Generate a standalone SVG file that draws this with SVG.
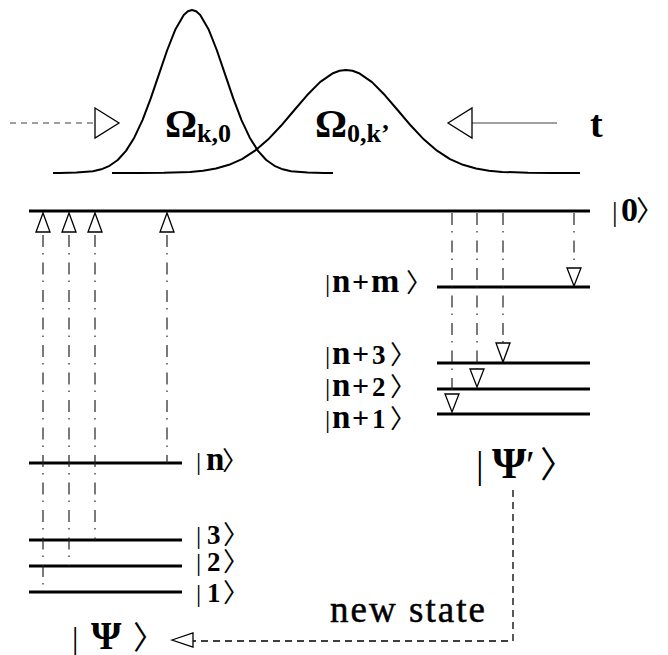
<svg xmlns="http://www.w3.org/2000/svg" width="668" height="655" viewBox="0 0 668 655">
<style>
.lvl{stroke:#000;stroke-width:3;fill:none}
.pulse{stroke:#000;stroke-width:2;fill:none;stroke-linejoin:round}
.dd{stroke:#222;stroke-width:1.2;stroke-dasharray:12 6 1.5 8;fill:none}
.tri{fill:#fff;stroke:#000;stroke-width:1.3}
.t{font-family:"Liberation Serif","DejaVu Serif",serif;fill:#000}
.b{font-weight:bold}
.br{font-family:"Noto Sans CJK JP","Noto Sans CJK SC",sans-serif;font-weight:normal}
.bar{font-family:"Liberation Serif",serif;font-weight:normal}
</style>
<rect width="668" height="655" fill="#fff"/>
<g id="pulses">
<polyline class="pulse" points="53,173 60,173 76.5,172.6 93,171.2 101.25,169.3 109.5,165.8 117.75,160 126,150.9 134.25,137.7 142.5,120.1 150.75,98.4 159,74.1 167.25,50 175.5,29.2 183.75,15 187.9,11.3 192,10 196.1,11.3 200.25,15 208.5,29.2 216.75,50 225,74.1 233.25,98.4 241.5,120.1 249.75,137.7 258,150.9 266.25,160 274.5,165.8 282.75,169.3 291,171.2 307.5,172.6 324,173 333,173"/>
<polyline class="pulse" points="112,173 138,173 164,172.8 190,171.9 203,170.7 216,168.5 229,164.8 242,159.1 255,150.7 268,139.6 281,125.8 294,110.5 307,95.3 320,82.1 333,73.2 339.5,70.8 346,70 352.5,70.8 359,73.2 372,82.1 385,95.3 398,110.5 411,125.8 424,139.6 437,150.7 450,159.1 463,164.8 476,168.5 489,170.7 502,171.9 528,172.8 554,173 580,173"/>
<text class="t b" x="165" y="137" font-size="40">Ω<tspan font-size="26" dy="5">k,0</tspan></text>
<text class="t b" x="315" y="137" font-size="40">Ω<tspan font-size="26" dy="5">0,k’</tspan></text>
<text class="t b" x="590" y="137" font-size="38">t</text>
<line x1="10" y1="123" x2="95" y2="123" stroke="#808080" stroke-width="1.5" stroke-dasharray="6 5"/>
<polygon class="tri" points="95,108 119,123 95,138"/>
<line x1="472" y1="123" x2="557" y2="123" stroke="#808080" stroke-width="1.5"/>
<polygon class="tri" points="448,123 472,108 472,138"/>
</g>
<g id="level-0">
<line class="lvl" x1="29" y1="211" x2="590" y2="211"/>
<text class="t" x="612" y="221" font-size="28"><tspan class="bar">|</tspan><tspan class="b" x="621" font-size="34">0</tspan><tspan class="br" x="636" font-size="28">〉</tspan></text>
</g>
<g id="level-n">
<line class="lvl" x1="29" y1="463" x2="182" y2="463"/>
<text class="t" x="196" y="470" font-size="26"><tspan class="bar">|</tspan><tspan class="b" x="206" font-size="33">n</tspan><tspan class="br" x="222">〉</tspan></text>
</g>
<g id="level-3">
<line class="lvl" x1="29" y1="540" x2="182" y2="540"/>
<text class="t" x="196" y="544" font-size="26"><tspan class="bar">|</tspan><tspan class="b" x="207" font-size="27">3</tspan><tspan class="br" x="223">〉</tspan></text>
</g>
<g id="level-2">
<line class="lvl" x1="29" y1="566" x2="182" y2="566"/>
<text class="t" x="196" y="571" font-size="26"><tspan class="bar">|</tspan><tspan class="b" x="207" font-size="27">2</tspan><tspan class="br" x="223">〉</tspan></text>
</g>
<g id="level-1">
<line class="lvl" x1="29" y1="592" x2="182" y2="592"/>
<text class="t" x="196" y="602" font-size="26"><tspan class="bar">|</tspan><tspan class="b" x="207" font-size="27">1</tspan><tspan class="br" x="223">〉</tspan></text>
</g>
<g id="level-nm">
<line class="lvl" x1="437" y1="287" x2="590" y2="287"/>
<text class="t" x="325" y="292" font-size="26"><tspan class="bar">|</tspan><tspan class="b" x="332" font-size="33">n</tspan><tspan class="b" x="352" font-size="30">+</tspan><tspan class="b" x="371" font-size="34" textLength="39">m</tspan><tspan class="br" x="406">〉</tspan></text>
</g>
<g id="level-n3">
<line class="lvl" x1="437" y1="363" x2="590" y2="363"/>
<text class="t" x="325" y="364" font-size="26"><tspan class="bar">|</tspan><tspan class="b" x="332" font-size="33">n</tspan><tspan class="b" x="352" font-size="30">+</tspan><tspan class="b" x="372" font-size="27">3</tspan><tspan class="br" x="390">〉</tspan></text>
</g>
<g id="level-n2">
<line class="lvl" x1="437" y1="389" x2="590" y2="389"/>
<text class="t" x="325" y="396" font-size="26"><tspan class="bar">|</tspan><tspan class="b" x="332" font-size="33">n</tspan><tspan class="b" x="352" font-size="30">+</tspan><tspan class="b" x="372" font-size="27">2</tspan><tspan class="br" x="390">〉</tspan></text>
</g>
<g id="level-n1">
<line class="lvl" x1="437" y1="414" x2="590" y2="414"/>
<text class="t" x="325" y="428" font-size="26"><tspan class="bar">|</tspan><tspan class="b" x="332" font-size="33">n</tspan><tspan class="b" x="352" font-size="30">+</tspan><tspan class="b" x="372" font-size="27">1</tspan><tspan class="br" x="390">〉</tspan></text>
</g>
<g id="psi-prime">
<text class="t" x="476" y="478" font-size="38"><tspan class="bar">|</tspan><tspan class="b" x="492" font-size="44">Ψ</tspan><tspan x="526" font-size="40">′</tspan><tspan class="br" x="540" font-size="36">〉</tspan></text>
</g>
<g id="psi">
<text class="t" x="72" y="649" font-size="32"><tspan class="bar">|</tspan><tspan class="b" x="91" font-size="39">Ψ</tspan><tspan class="br" x="133" font-size="32">〉</tspan></text>
</g>
<g id="new-state-label">
<text class="t" x="330" y="622" font-size="37" textLength="155" stroke="#000" stroke-width="0.5">new state</text>
</g>
<g id="connectors">
<line class="dd" x1="43" y1="235" x2="43" y2="592"/>
<line class="dd" x1="69" y1="235" x2="69" y2="566"/>
<line class="dd" x1="95" y1="235" x2="95" y2="540"/>
<line class="dd" x1="167" y1="235" x2="167" y2="463"/>
<polygon class="tri" points="43,213 36,232 50,232"/>
<polygon class="tri" points="69,213 62,232 76,232"/>
<polygon class="tri" points="95,213 88,232 102,232"/>
<polygon class="tri" points="167,213 160,232 174,232"/>
<line class="dd" x1="452" y1="213" x2="452" y2="394"/>
<line class="dd" x1="477" y1="213" x2="477" y2="369"/>
<line class="dd" x1="503" y1="213" x2="503" y2="343"/>
<line class="dd" x1="574" y1="213" x2="574" y2="268"/>
<polygon class="tri" points="445,394 459,394 452,412"/>
<polygon class="tri" points="470,369 484,369 477,387"/>
<polygon class="tri" points="496,343 510,343 503,362"/>
<polygon class="tri" points="567,268 581,268 574,286"/>
<path d="M513,490 V641 H193" fill="none" stroke="#000" stroke-width="1.3" stroke-dasharray="7 5"/>
<polygon class="tri" points="172,640 193,633 193,647"/>
</g>
</svg>
